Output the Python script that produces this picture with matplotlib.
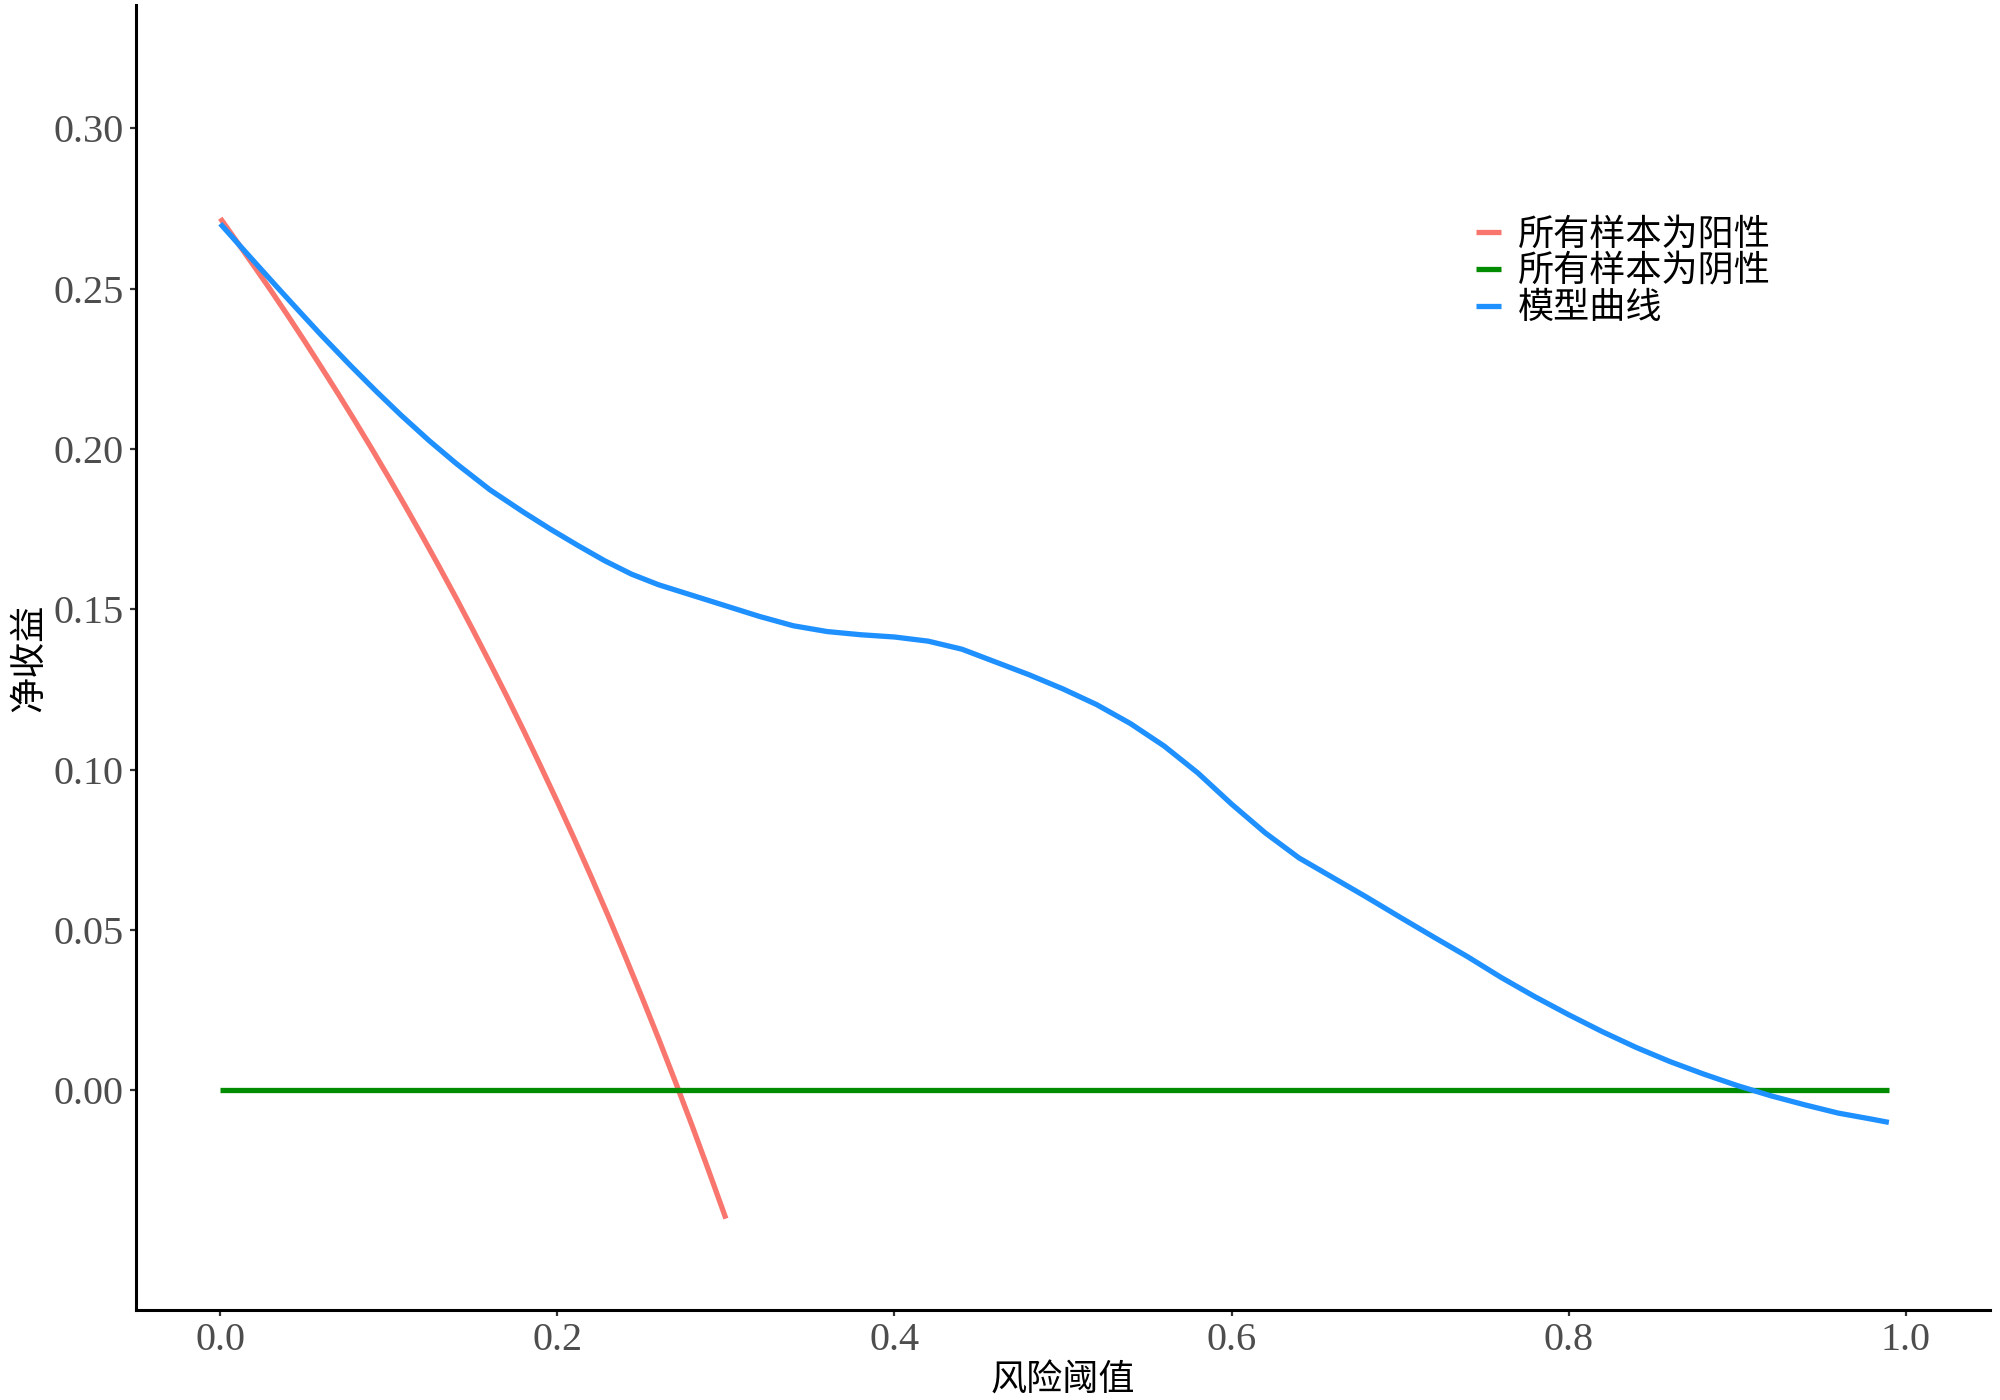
import matplotlib.pyplot as plt
import numpy as np

# decision curve: net benefit vs risk threshold
plt.rcParams['font.family'] = ['Liberation Serif', 'Noto Sans CJK SC']

thresholds_all = [0.00, 0.01, 0.02, 0.03, 0.04, 0.05, 0.06, 0.07, 0.08, 0.09, 0.10,
                  0.11, 0.12, 0.13, 0.14, 0.15, 0.16, 0.17, 0.18, 0.19, 0.20,
                  0.21, 0.22, 0.23, 0.24, 0.25, 0.26, 0.27, 0.28, 0.29, 0.30]
net_benefit_all = [0.2720, 0.2646, 0.2571, 0.2495, 0.2417, 0.2337, 0.2255, 0.2172, 0.2087, 0.2000, 0.1911,
                   0.1820, 0.1727, 0.1632, 0.1535, 0.1435, 0.1333, 0.1229, 0.1122, 0.1012, 0.0900,
                   0.0785, 0.0667, 0.0546, 0.0421, 0.0293, 0.0162, 0.0027, -0.0111, -0.0254, -0.0400]

thresholds_none = [0.00, 0.99]
net_benefit_none = [0.0, 0.0]

thresholds_model = [0.000, 0.010, 0.023, 0.035, 0.047, 0.060, 0.077, 0.092, 0.107, 0.124,
                    0.140, 0.160, 0.180, 0.196, 0.212, 0.228, 0.244, 0.260, 0.280, 0.300,
                    0.320, 0.340, 0.360, 0.380, 0.400, 0.420, 0.440, 0.460, 0.480, 0.500,
                    0.520, 0.540, 0.560, 0.580, 0.600, 0.620, 0.640, 0.660, 0.680, 0.700,
                    0.720, 0.740, 0.760, 0.780, 0.800, 0.820, 0.840, 0.860, 0.880, 0.900,
                    0.920, 0.940, 0.960, 0.980, 0.990]
net_benefit_model = [0.2703, 0.2644, 0.2568, 0.2498, 0.2429, 0.2355, 0.2262, 0.2183, 0.2107, 0.2026,
                     0.1955, 0.1873, 0.1803, 0.1750, 0.1700, 0.1652, 0.1610, 0.1577, 0.1544, 0.1511,
                     0.1478, 0.1449, 0.1431, 0.1421, 0.1414, 0.1401, 0.1376, 0.1336, 0.1296, 0.1252,
                     0.1203, 0.1144, 0.1074, 0.0990, 0.0893, 0.0803, 0.0725, 0.0664, 0.0603, 0.0540,
                     0.0478, 0.0417, 0.0352, 0.0292, 0.0236, 0.0183, 0.0134, 0.0090, 0.0051, 0.0015,
                     -0.0017, -0.0045, -0.0071, -0.0090, -0.0100]

labels = ['所有样本为阳性', '所有样本为阴性', '模型曲线']
colors = ['#F8766D', '#008B00', '#1E90FF']

x_ticks = [0.0, 0.2, 0.4, 0.6, 0.8, 1.0]
y_ticks = [0.00, 0.05, 0.10, 0.15, 0.20, 0.25, 0.30]

fig = plt.figure(figsize=(20, 14), dpi=100)
ax = fig.add_axes([0.068, 0.0643, 0.927, 0.9321])

lw = 3.8
ax.plot(thresholds_all, net_benefit_all, color=colors[0], lw=lw, label=labels[0], solid_capstyle='butt')
ax.plot(thresholds_none, net_benefit_none, color=colors[1], lw=lw, label=labels[1], solid_capstyle='butt')
ax.plot(thresholds_model, net_benefit_model, color=colors[2], lw=lw, label=labels[2], solid_capstyle='butt')

ax.set_xlim(-0.05, 1.05)
ax.set_ylim(-0.0685, 0.3385)

ax.set_xticks(x_ticks)
ax.set_xticklabels(['%.1f' % v for v in x_ticks])
ax.set_yticks(y_ticks)
ax.set_yticklabels(['%.2f' % v for v in y_ticks])

for side in ['top', 'right']:
    ax.spines[side].set_visible(False)
for side in ['left', 'bottom']:
    ax.spines[side].set_linewidth(2.2)
    ax.spines[side].set_color('black')

ax.tick_params(axis='both', direction='out', length=4, width=1.6, color='#333333',
               labelsize=29, labelcolor='#4D4D4D', pad=5)

ax.set_xlabel('风险阈值', fontsize=26, family=['Noto Sans CJK SC'], color='black', labelpad=2)
ax.set_ylabel('净收益', fontsize=26, family=['Noto Sans CJK SC'], color='black', labelpad=4)

ax.legend(loc='upper left', bbox_to_anchor=(0.738, 0.8455), bbox_transform=fig.transFigure,
          frameon=False, prop={'family': 'Noto Sans CJK SC', 'size': 26},
          handlelength=0.7, handletextpad=0.45, labelspacing=0.03,
          borderpad=0, borderaxespad=0)

fig.savefig('out.png', dpi=100)
